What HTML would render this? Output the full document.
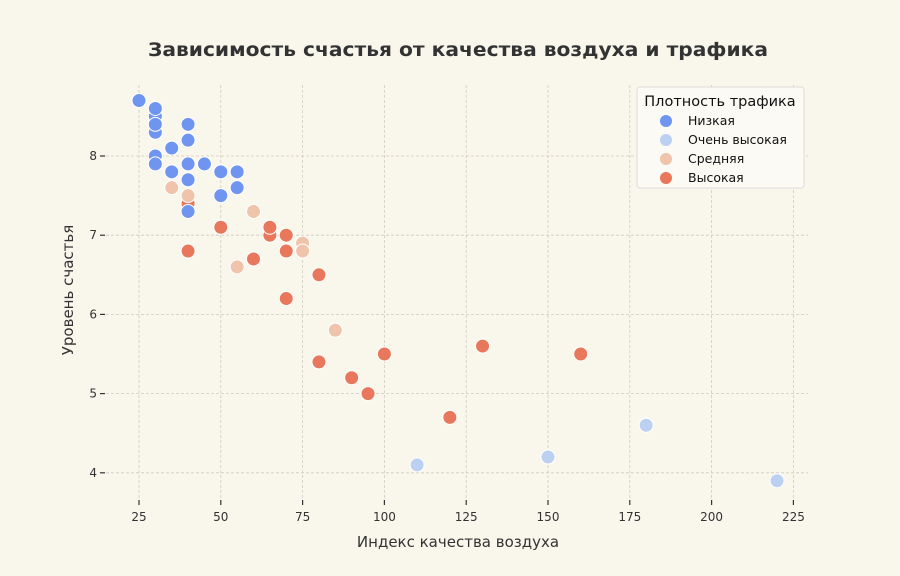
<!DOCTYPE html>
<html><head><meta charset="utf-8"><style>html,body{margin:0;padding:0;background:#f9f6ec}svg{display:block}</style></head>
<body>
<svg id="s" width="900" height="576" xmlns="http://www.w3.org/2000/svg" font-family="DejaVu Sans, sans-serif">
<rect width="900" height="576" fill="#f9f6ec"/>
<text x="458" y="56" text-anchor="middle" font-size="19" font-weight="bold" fill="#333" textLength="620" lengthAdjust="spacingAndGlyphs">Зависимость счастья от качества воздуха и трафика</text>
<g id="grid" stroke="#cfcbc0" stroke-width="0.8" stroke-dasharray="3,2"></g>
<g id="ticks" stroke="#333" stroke-width="1.2"></g>
<g id="labels" font-size="12" fill="#333"></g>
<text x="458" y="547" text-anchor="middle" font-size="15" fill="#333">Индекс качества воздуха</text>
<text transform="translate(73,290) rotate(-90)" text-anchor="middle" font-size="15" fill="#333">Уровень счастья</text>
<g id="pts" stroke="#fff" stroke-width="1"></g>
<g>
<rect x="637" y="87" width="167" height="101" rx="3" fill="#fbfaf5" stroke="#dcdcdc"/>
<text x="720" y="106" text-anchor="middle" font-size="14.5" fill="#111">Плотность трафика</text>
<circle cx="666" cy="121" r="6" fill="#6f95f0"/><text x="688" y="125" font-size="12.5" fill="#111">Низкая</text>
<circle cx="666" cy="140" r="6" fill="#bcd0f2"/><text x="688" y="144" font-size="12.5" fill="#111">Очень высокая</text>
<circle cx="666" cy="159" r="6" fill="#f0c4ab"/><text x="688" y="163" font-size="12.5" fill="#111">Средняя</text>
<circle cx="666" cy="178" r="6" fill="#e8775b"/><text x="688" y="182" font-size="12.5" fill="#111">Высокая</text>
</g>
</svg>
<script>
const X=v=>139+(v-25)*3.272, Y=v=>156+(8-v)*79.2;
const ns="http://www.w3.org/2000/svg";
function el(p,t,a,txt){const e=document.createElementNS(ns,t);for(const k in a)e.setAttribute(k,a[k]);if(txt!=null)e.textContent=txt;document.getElementById(p).appendChild(e);}
for(let v=25;v<=225;v+=25){const x=X(v);el("grid","line",{x1:x,x2:x,y1:85,y2:500});el("ticks","line",{x1:x,x2:x,y1:500,y2:505});el("labels","text",{x:x,y:521,"text-anchor":"middle"},v);}
for(let v=4;v<=8;v++){const y=Y(v);el("grid","line",{x1:106,x2:808,y1:y,y2:y});el("ticks","line",{x1:100,x2:105,y1:y,y2:y});el("labels","text",{x:97,y:y+4,"text-anchor":"end"},v);}
const C={L:"#6f95f0",V:"#bcd0f2",M:"#f0c4ab",H:"#e8775b"};
const d=[["H",40,7.4],["M",35,7.6],["M",40,7.5],
["L",25,8.7],["L",30,8.5],["L",30,8.3],["L",30,8.6],["L",30,8.4],["L",30,8.0],["L",30,7.9],["L",35,8.1],["L",35,7.8],["L",40,8.4],["L",40,8.2],["L",40,7.9],["L",40,7.7],["L",40,7.3],["L",45,7.9],["L",50,7.8],["L",50,7.5],["L",55,7.8],["L",55,7.6],
["M",55,6.6],["M",60,7.3],["M",75,6.9],["M",75,6.8],["M",85,5.8],
["H",40,6.8],["H",50,7.1],["H",60,6.7],["H",65,7.0],["H",65,7.1],["H",70,7.0],["H",70,6.8],["H",70,6.2],["H",80,6.5],["H",80,5.4],["H",90,5.2],["H",95,5.0],["H",100,5.5],["H",120,4.7],["H",130,5.6],["H",160,5.5],
["V",110,4.1],["V",150,4.2],["V",180,4.6],["V",220,3.9]];
for(const [c,x,y] of d)el("pts","circle",{cx:X(x),cy:Y(y),r:7,fill:C[c]});
</script>
</body></html>
